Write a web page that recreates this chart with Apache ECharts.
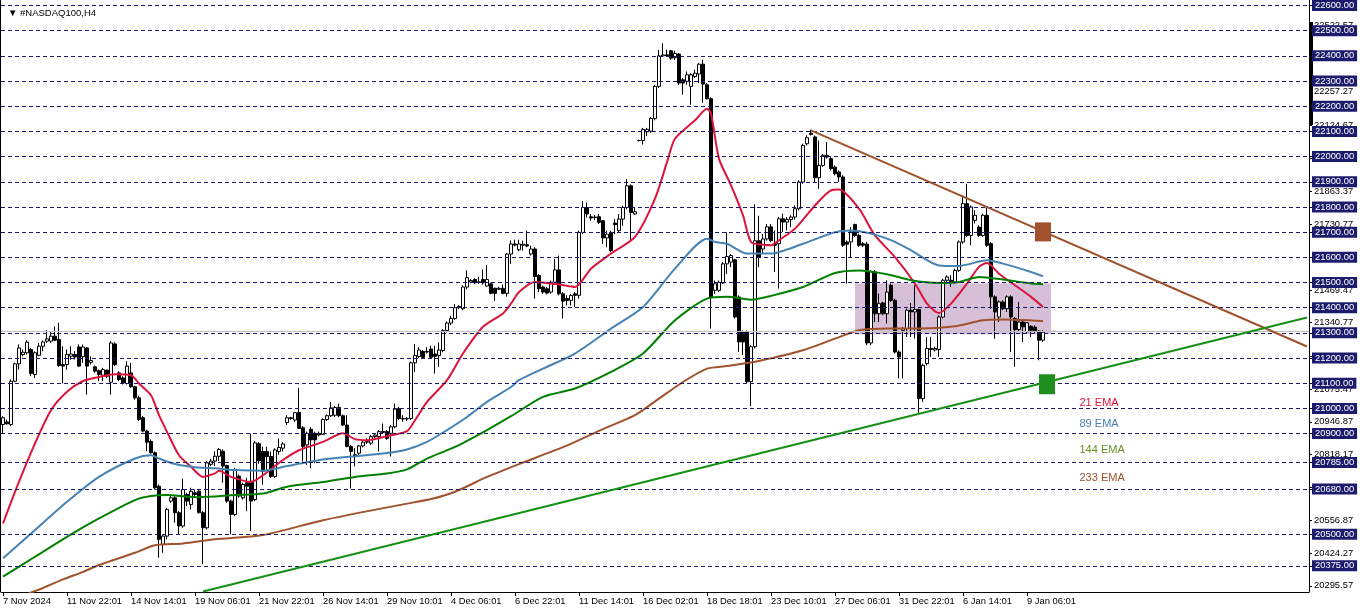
<!DOCTYPE html>
<html>
<head>
<meta charset="utf-8">
<script src="https://cdn.jsdelivr.net/npm/echarts@6/dist/echarts.min.js"></script>
<style>
html,body{margin:0;padding:0;background:#fff;}
#chart{width:1362px;height:611px;}
</style>
</head>
<body>
<div id="chart"></div>
<script>
// ---- tick labels (bottom axis), one every 16 H4 bars ----
const tickLabels = ['7 Nov 2024','11 Nov 22:01','14 Nov 14:01','19 Nov 06:01','21 Nov 22:01','26 Nov 14:01','29 Nov 10:01','4 Dec 06:01','6 Dec 22:01','11 Dec 14:01','16 Dec 02:01','18 Dec 18:01','23 Dec 10:01','27 Dec 06:01','31 Dec 22:01','6 Jan 14:01','9 Jan 06:01'];
const tickEvery = 16;
const slotCount = 327;

// ---- price scale labels ----
const gridLevels = [22600,22500,22400,22300,22200,22100,22000,21900,21800,21700,21600,21500,21400,21300,21200,21100,21000,20900,20785,20680,20500,20375];
const autoLevels = [20295.57,20424.27,20556.87,20687.47,20818.17,20946.87,21075.47,21208.07,21340.77,21469.47,21602.07,21730.77,21863.37,21992.07,22124.67,22257.27,22389.97,22522.57];
const bidPrice = 21305;

// ---- OHLC (H4 bars) ----
const opens = [20936,20946,20936,21108,21177,21214,21221,21234,21135,21211,21247,21267,21267,21287,21274,21174,21174,21207,21214,21244,21205,21240,21183,21165,21150,21132,21152,21104,21256,21141,21121,21099,21141,21086,21042,20963,20910,20869,20824,20691,20460,20493,20632,20645,20586,20533,20658,20618,20665,20671,20586,20526,20778,20791,20810,20830,20773,20632,20579,20731,20645,20705,20711,20638,20860,20829,20829,20809,20730,20829,20842,20944,20963,20954,20984,20923,20855,20917,20901,20901,20897,20956,20971,20973,21004,20971,20934,20849,20816,20822,20851,20866,20862,20888,20888,20908,20908,20901,20927,20999,20960,20958,20960,21181,21206,21226,21226,21236,21216,21210,21230,21309,21339,21357,21400,21396,21482,21502,21512,21500,21512,21486,21495,21477,21473,21477,21457,21613,21653,21630,21648,21650,21613,21633,21528,21482,21475,21462,21501,21550,21455,21436,21429,21455,21449,21699,21798,21761,21758,21761,21745,21677,21699,21736,21706,21752,21798,21884,21772,22064,22064,22098,22101,22151,22279,22400,22404,22420,22393,22407,22305,22299,22279,22318,22328,22367,22285,22230,21469,21469,21498,21574,21581,21590,21442,21304,21304,21106,21245,21666,21633,21673,21721,21654,21654,21753,21740,21750,21760,21793,21899,22051,22093,22078,21916,21965,22005,21992,21958,21939,21919,21661,21661,21730,21687,21654,21652,21260,21542,21376,21419,21376,21489,21429,21224,21310,21317,21390,21383,21393,21039,21178,21238,21232,21234,21363,21509,21509,21502,21548,21661,21813,21687,21747,21720,21687,21767,21654,21443,21363,21423,21396,21443,21357,21313,21343,21304,21326,21323,21307,21271];
const highs = [20969,20956,21115,21181,21254,21234,21271,21240,21227,21260,21270,21311,21303,21326,21340,21247,21234,21247,21227,21254,21254,21244,21207,21170,21154,21161,21154,21267,21263,21148,21128,21187,21181,21090,21050,20970,20915,20877,20830,20698,20500,20605,20652,20652,20592,20721,20665,20685,20678,20678,20592,20791,20800,20830,20843,20837,20777,20638,20764,20738,20705,20725,20900,20870,20866,20848,20848,20829,20842,20881,20866,20973,20966,20986,21082,20930,20908,20925,20908,20908,20960,20976,21026,21010,21019,20976,20973,20855,20842,20855,20870,20881,20895,20901,20914,20940,20914,20934,21019,21006,20973,20966,21186,21256,21243,21232,21243,21249,21249,21262,21315,21345,21368,21414,21410,21488,21548,21513,21517,21523,21552,21569,21499,21480,21483,21492,21617,21667,21670,21670,21666,21706,21646,21640,21534,21488,21482,21508,21594,21607,21462,21449,21455,21462,21706,21824,21818,21772,21768,21772,21748,21706,21706,21752,21772,21805,21910,21890,21798,22067,22114,22114,22157,22285,22424,22450,22424,22424,22420,22411,22312,22338,22331,22345,22371,22384,22292,22236,21508,21508,21581,21699,21613,21594,21449,21310,21310,21251,21811,21765,21692,21732,21732,21707,21760,21773,21760,21767,21806,21906,22051,22084,22107,22084,22064,22011,22058,21998,21965,21945,21926,21667,21720,21734,21694,21661,21661,21549,21549,21456,21423,21509,21496,21436,21231,21323,21396,21419,21489,21396,21178,21284,21284,21245,21370,21515,21529,21529,21555,21667,21846,21892,21806,21787,21727,21773,21800,21661,21449,21429,21429,21449,21449,21363,21423,21350,21343,21330,21330,21310,21310];
const lows = [20903,20936,20930,21104,21154,21207,21214,21128,21121,21207,21227,21260,21260,21267,21165,21099,21154,21194,21194,21165,21181,21055,21174,21141,21108,21108,21121,21055,21168,21108,21095,21095,21082,21035,20950,20905,20830,20820,20678,20407,20427,20480,20625,20546,20500,20526,20612,20599,20645,20583,20381,20519,20771,20771,20791,20705,20625,20500,20572,20645,20638,20592,20513,20632,20780,20697,20750,20724,20724,20816,20829,20934,20955,20947,20918,20789,20776,20763,20783,20888,20895,20950,20966,20966,20966,20930,20845,20682,20770,20816,20845,20859,20855,20882,20829,20899,20875,20809,20921,20954,20947,20950,20954,21144,21200,21197,21218,21197,21138,21164,21223,21302,21331,21352,21395,21390,21473,21497,21495,21495,21492,21484,21453,21427,21470,21453,21444,21574,21644,21624,21627,21640,21607,21436,21462,21455,21453,21455,21495,21449,21357,21409,21409,21403,21436,21692,21758,21745,21748,21732,21653,21640,21620,21692,21699,21726,21791,21666,21769,22060,22048,22081,22094,22144,22272,22397,22397,22384,22384,22285,22246,22285,22206,22312,22292,22213,22226,21317,21455,21462,21495,21534,21561,21357,21225,21212,21100,21010,21238,21561,21613,21666,21660,21542,21476,21701,21707,21720,21750,21786,21892,22044,22084,21899,21872,21959,21992,21945,21925,21899,21641,21496,21601,21681,21641,21641,21251,21251,21343,21343,21370,21337,21423,21218,21119,21119,21284,21284,21277,20980,21026,21171,21205,21226,21205,21357,21496,21482,21496,21542,21654,21681,21648,21734,21681,21681,21641,21396,21277,21343,21390,21383,21224,21165,21307,21264,21297,21284,21297,21191,21264];
const closes = [20963,20939,21108,21177,21240,21223,21263,21139,21221,21247,21264,21276,21287,21271,21170,21168,21214,21216,21204,21168,21244,21168,21190,21148,21135,21154,21128,21260,21174,21115,21101,21168,21086,21042,20956,20910,20866,20824,20685,20480,20493,20599,20645,20586,20533,20678,20632,20671,20658,20586,20526,20784,20791,20810,20837,20771,20632,20579,20758,20652,20698,20691,20632,20863,20792,20750,20809,20730,20835,20845,20859,20963,20960,20983,20921,20849,20901,20875,20875,20895,20956,20971,21002,21004,20971,20934,20849,20829,20809,20851,20866,20868,20888,20894,20908,20905,20881,20927,20997,20960,20958,20960,21181,21210,21232,21203,21224,21203,21207,21232,21309,21339,21357,21400,21405,21482,21519,21508,21499,21503,21499,21512,21457,21457,21477,21457,21613,21653,21649,21653,21652,21645,21633,21524,21475,21462,21458,21501,21550,21455,21426,21429,21449,21449,21699,21798,21772,21756,21760,21739,21677,21692,21627,21730,21752,21798,21884,21778,21781,22064,22108,22108,22151,22279,22400,22404,22401,22391,22410,22292,22292,22325,22325,22331,22367,22288,22230,21442,21495,21501,21574,21603,21607,21363,21264,21264,21106,21245,21666,21600,21673,21721,21666,21648,21753,21740,21750,21760,21793,21899,22044,22075,22088,21916,21965,22005,21998,21952,21932,21919,21648,21652,21701,21687,21648,21648,21260,21542,21376,21416,21376,21462,21429,21224,21204,21317,21390,21383,21393,21039,21171,21238,21234,21238,21363,21509,21522,21502,21548,21661,21813,21687,21800,21767,21687,21767,21648,21443,21383,21423,21396,21443,21363,21313,21343,21324,21340,21310,21307,21271,21303];

// ---- moving averages read at selected bars ----
const ema21Idx = [0,3,8,12,16,20,24,28,32,34,37,39,41,44,47,50,53,54,57,62,65,70,74,80,85,88,91,96,101,103,106,111,115,120,125,127,129,133,139,143,147,152,158,163,166,168,173,176,177,179,182,185,187,190,192,194,198,203,207,209,214,218,223,228,231,234,237,241,244,246,249,253,257,260];
const ema21Val = [20543,20669,20861,20993,21066,21109,21125,21136,21132,21099,21052,20973,20907,20814,20768,20728,20742,20752,20728,20708,20735,20795,20834,20867,20901,20878,20874,20890,20910,20953,21026,21112,21218,21324,21377,21416,21462,21502,21492,21482,21555,21615,21681,21833,21978,22071,22144,22190,22170,21992,21886,21767,21661,21650,21648,21668,21714,21806,21866,21869,21793,21687,21601,21496,21416,21379,21416,21496,21562,21577,21535,21489,21443,21403];
const ema89Idx = [0,8,16,24,33,37,39,43,48,53,58,65,71,80,88,95,101,106,111,116,121,127,129,135,143,152,160,168,176,178,181,186,192,200,208,212,217,222,227,234,239,246,250,257,260];
const ema89Val = [20405,20517,20629,20728,20801,20814,20801,20779,20766,20762,20755,20752,20771,20797,20810,20821,20837,20867,20914,20966,21026,21085,21112,21158,21218,21317,21403,21555,21674,21661,21654,21615,21615,21654,21700,21707,21694,21668,21628,21568,21566,21588,21575,21542,21525];
const ema144Idx = [0,8,16,24,33,37,41,49,58,65,71,80,88,96,101,106,113,121,127,135,143,152,160,168,176,181,187,192,200,208,214,221,227,234,239,244,250,257,260];
const ema144Val = [20332,20411,20490,20563,20636,20652,20656,20647,20656,20662,20689,20708,20728,20742,20758,20801,20847,20914,20969,21046,21079,21145,21218,21350,21436,21443,21432,21447,21482,21538,21548,21533,21509,21498,21502,21522,21512,21496,21493];
const ema233Idx = [0,10,15,20,24,33,38,45,53,65,80,99,107,113,121,129,140,150,158,164,170,176,181,187,192,200,208,214,221,229,238,245,250,260];
const ema233Val = [20227,20287,20321,20351,20378,20427,20457,20464,20480,20497,20556,20616,20640,20669,20728,20779,20846,20918,20973,21039,21105,21158,21168,21182,21199,21231,21277,21310,21317,21317,21326,21350,21353,21347];

// ---- drawn objects ----
const boxStart = 213, boxEnd = 262, boxHigh = 21497, boxLow = 21295;
const resistA = [202, 22104], resistB = [326, 21246];
const supportA = [50, 20273], supportB = [326, 21361];
const brownMark = [260, 21701], greenMark = [261, 21096];
const emaNames = ['21 EMA','89 EMA','144 EMA','233 EMA'];
const emaLabelPrices = [21021, 20937, 20834, 20723];
const emaLabelSlot = 269;

const FONT = 'Liberation Sans';
const categories = [];
for (let i = 0; i < slotCount; i++) categories.push('');
tickLabels.forEach((t, k) => { categories[k * tickEvery] = t; });

const ohlc = opens.map((o, i) => [o, closes[i], lows[i], highs[i]]);
const pairs = (idx, val) => idx.map((x, k) => [x, val[k]]);

const emaColors = ['#DC143C', '#4682B4', '#008000', '#A0522D'];
const emaTextColors = ['#DC143C', '#4682B4', '#6B8E23', '#A0522D'];
const emaSets = [[ema21Idx, ema21Val], [ema89Idx, ema89Val], [ema144Idx, ema144Val], [ema233Idx, ema233Val]];

const chart = echarts.init(document.getElementById('chart'), null, {renderer: 'canvas'});
const Y0 = 20271, Y1 = 22620;

const series = [
  { // rectangle zone
    type: 'line', data: [], yAxisIndex: 1, z: 1, silent: true,
    markArea: { silent: true, itemStyle: { color: '#D8BFD8', opacity: 1 },
      data: [[{ coord: [boxStart, boxHigh] }, { coord: [boxEnd, boxLow] }]] }
  },
  { // grid lines + bid line
    type: 'line', data: [], yAxisIndex: 1, z: 2, silent: true,
    markLine: { silent: true, symbol: ['none', 'none'], label: { show: false }, animation: false,
      data: gridLevels.map(v => ({ yAxis: v, lineStyle: { type: [4, 3], color: '#191970', width: 1 } }))
        .concat([{ yAxis: bidPrice, lineStyle: { type: 'solid', color: '#C0C0C0', width: 1 } }]) }
  },
  {
    type: 'candlestick', data: ohlc, yAxisIndex: 1, z: 3, barWidth: 3,
    itemStyle: { color: '#FFFFFF', color0: '#000000', borderColor: '#000000', borderColor0: '#000000', borderWidth: 1 }
  }
];
emaSets.forEach((s, k) => {
  series.push({
    type: 'line', data: pairs(s[0], s[1]), yAxisIndex: 1, z: 4, showSymbol: false, smooth: 0.25,
    lineStyle: { color: emaColors[k], width: 2 }, silent: true
  });
});
series.push({
  type: 'line', data: [], yAxisIndex: 1, z: 5, silent: true,
  markLine: { silent: true, symbol: ['none', 'none'], label: { show: false },
    data: [
      [{ coord: resistA, lineStyle: { color: '#A0522D', width: 2, type: 'solid' } }, { coord: resistB }],
      [{ coord: supportA, lineStyle: { color: '#159015', width: 2, type: 'solid' } }, { coord: supportB }]
    ] },
  markPoint: { silent: true,
    data: [
      { coord: brownMark, symbol: 'rect', symbolSize: [16, 19], itemStyle: { color: '#A0522D' }, label: { show: false } },
      { coord: greenMark, symbol: 'rect', symbolSize: [16, 20], itemStyle: { color: '#1E8F1E' }, label: { show: false } }
    ].concat(emaNames.map((n, k) => ({
      coord: [emaLabelSlot, emaLabelPrices[k]], symbol: 'circle', symbolSize: 1,
      itemStyle: { color: 'rgba(0,0,0,0)' },
      label: { show: true, position: 'right', distance: 0, formatter: n, color: emaTextColors[k], fontSize: 11, fontFamily: FONT }
    })))
  }
});

chart.setOption({
  animation: false,
  backgroundColor: '#FFFFFF',
  title: { text: '\u25BC #NASDAQ100,H4', left: 3, top: 3,
    textStyle: { fontSize: 9.5, fontWeight: 'normal', color: '#000', fontFamily: FONT } },
  grid: { left: 1, right: 53, top: 0, bottom: 19, containLabel: false, show: false },
  xAxis: {
    type: 'category', data: categories, boundaryGap: true,
    axisLine: { show: true, lineStyle: { color: '#000', width: 1 } },
    axisTick: { show: true, alignWithLabel: true, length: 4, interval: (i, v) => v !== '', lineStyle: { color: '#000' } },
    axisLabel: { show: true, interval: (i, v) => v !== '', align: 'left', margin: 5, color: '#000', fontSize: 9.4, fontFamily: FONT },
    splitLine: { show: false }
  },
  yAxis: [
    {
      type: 'value', position: 'right', min: Y0, max: Y1, z: 1,
      axisLine: { show: false }, splitLine: { show: false },
      axisTick: { show: true, customValues: autoLevels, length: 3, lineStyle: { color: '#000' } },
      axisLabel: { show: true, customValues: autoLevels, formatter: v => Number(v).toFixed(2), color: '#000', fontSize: 9.4, fontFamily: FONT, margin: 5 }
    },
    {
      type: 'value', position: 'right', min: Y0, max: Y1, z: 2,
      axisLine: { show: true, lineStyle: { color: '#000', width: 1 } }, splitLine: { show: false },
      axisTick: { show: true, customValues: gridLevels, length: 3, lineStyle: { color: '#000' } },
      axisLabel: { show: true, customValues: gridLevels, formatter: v => Number(v).toFixed(2), color: '#FFFFFF',
        backgroundColor: '#1C1C6C', padding: [1, 3, 1, 3], fontSize: 9.4, fontFamily: FONT, margin: 3 }
    }
  ],
  graphic: [
    { type: 'rect', left: 0, top: 0, shape: { width: 1, height: 592 }, style: { fill: '#000' }, silent: true },
    { type: 'rect', left: 1310, top: 22, shape: { width: 3, height: 103 }, style: { fill: '#000' }, silent: true }
  ],
  series: series
});
</script>
</body>
</html>
